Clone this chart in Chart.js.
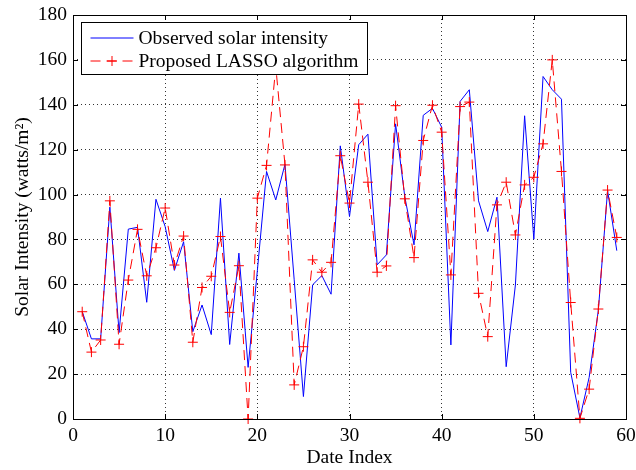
<!DOCTYPE html>
<html><head><meta charset="utf-8">
<script src="https://cdn.jsdelivr.net/npm/chart.js@4.4.0/dist/chart.umd.min.js"></script>
<style>html,body{margin:0;padding:0;background:#fff;} canvas{display:block;}</style>
</head><body>
<canvas id="c" width="636" height="470"></canvas>
<script>
const dateIndex = [1,2,3,4,5,6,7,8,9,10,11,12,13,14,15,16,17,18,19,20,21,22,23,24,25,26,27,28,29,30,31,32,33,34,35,36,37,38,39,40,41,42,43,44,45,46,47,48,49,50,51,52,53,54,55,56,57,58,59];
const observed = [47.9,35.7,35.7,94.4,38.5,84.6,85.4,52,97.9,85.7,66.2,79,38.9,50.8,37.6,98.4,33.2,73.9,23,66,110.3,97.6,113.5,62,10,59.8,63.9,55.6,121.7,90.2,122.2,126.9,68.7,73.1,131.5,99,77.6,135.3,138.4,130,33,141.5,146.7,97.2,83.5,98.8,23.3,59.7,135.1,80.1,152.6,146.7,142.5,20.8,0.5,18.5,48.5,101.8,75];
const lasso = [47.8,29.8,35.2,97.2,33.3,61.9,84.5,63.8,76.3,94,68.6,81.5,34.2,58.6,63.6,81.3,47.5,68.3,0,98.4,113,157,113.2,15.2,32.2,70.9,65.4,69.8,117.3,96.2,140.3,105.5,65.4,68.2,139.6,98.1,71.9,124.1,139.8,127.8,64.2,139.2,141.2,56,36.7,95.4,105.5,82,104.3,107.7,122.6,160,110.3,51.9,0.3,13.3,49,102,80.9];
const xTicks = [0,10,20,30,40,50,60];
const yTicks = [0,20,40,60,80,100,120,140,160,180];
const seriesLabels = ['Observed solar intensity','Proposed LASSO algorithm'];
const xTitle = 'Date Index';
const yTitle = 'Solar Intensity (watts/m\u00B2)';

const SERIF = "'Liberation Serif','Times New Roman',serif";
const FS = 19.5;

const framePlugin = {
  id: 'frame',
  afterDatasetsDraw(chart) {
    const {ctx, chartArea: a, scales} = chart;
    ctx.save();
    ctx.setLineDash([]);
    ctx.strokeStyle = '#000';
    ctx.lineWidth = 1;
    ctx.strokeRect(Math.round(a.left)+0.5, Math.round(a.top)+0.5, Math.round(a.right-a.left), Math.round(a.bottom-a.top));
    const L = 5;
    ctx.beginPath();
    xTicks.forEach(v => {
      const x = Math.round(scales.x.getPixelForValue(v)) + 0.5;
      ctx.moveTo(x, a.bottom); ctx.lineTo(x, a.bottom - L);
      ctx.moveTo(x, a.top); ctx.lineTo(x, a.top + L);
    });
    yTicks.forEach(v => {
      const y = Math.round(scales.y.getPixelForValue(v)) + 0.5;
      ctx.moveTo(a.left, y); ctx.lineTo(a.left + L, y);
      ctx.moveTo(a.right, y); ctx.lineTo(a.right - L, y);
    });
    ctx.stroke();
    ctx.restore();
  }
};

const legendPlugin = {
  id: 'boxLegend',
  afterDatasetsDraw(chart) {
    const {ctx, chartArea: a} = chart;
    const ds = chart.data.datasets;
    const x0 = Math.round(a.left + 8) + 0.5, y0 = Math.round(a.top + 7) + 0.5;
    const w = 286, h = 52;
    ctx.save();
    ctx.fillStyle = '#fff';
    ctx.fillRect(x0, y0, w, h);
    ctx.strokeStyle = '#000';
    ctx.lineWidth = 1;
    ctx.setLineDash([]);
    ctx.strokeRect(x0, y0, w, h);
    ctx.font = FS + 'px ' + SERIF;
    ctx.fillStyle = '#000';
    ctx.textBaseline = 'middle';
    const rows = [y0 + 15.5, y0 + 38.5];
    ds.forEach((d, i) => {
      const y = rows[i];
      const lx0 = x0 + 9, lx1 = x0 + 52;
      ctx.strokeStyle = d.borderColor;
      ctx.lineWidth = 1;
      ctx.setLineDash(d.borderDash || []);
      ctx.beginPath(); ctx.moveTo(lx0, y); ctx.lineTo(lx1, y); ctx.stroke();
      ctx.setLineDash([]);
      if (d.pointStyle === 'cross') {
        const cx = (lx0 + lx1) / 2, r = 5;
        ctx.beginPath();
        ctx.moveTo(cx - r, y); ctx.lineTo(cx + r, y);
        ctx.moveTo(cx, y - r); ctx.lineTo(cx, y + r);
        ctx.stroke();
      }
      ctx.fillStyle = '#000';
      ctx.fillText(d.label, x0 + 57, y + 1);
    });
    ctx.restore();
  }
};

new Chart(document.getElementById('c'), {
  type: 'line',
  data: {
    datasets: [
      {
        label: seriesLabels[0],
        data: dateIndex.map((x, i) => ({x, y: observed[i]})),
        borderColor: '#0000ff',
        borderWidth: 1,
        pointRadius: 0,
        fill: false,
        tension: 0,
        order: 1
      },
      {
        label: seriesLabels[1],
        data: dateIndex.map((x, i) => ({x, y: lasso[i]})),
        borderColor: '#ff0000',
        borderWidth: 1,
        borderDash: [10, 6],
        pointStyle: 'cross',
        pointRadius: 5,
        pointBorderWidth: 1,
        pointBorderColor: '#ff0000',
        pointBackgroundColor: '#ff0000',
        fill: false,
        tension: 0,
        clip: false,
        order: 0
      }
    ]
  },
  options: {
    responsive: false,
    animation: false,
    devicePixelRatio: 1,
    layout: { padding: { top: 15, right: 10, left: 0, bottom: 0 } },
    plugins: { legend: { display: false }, tooltip: { enabled: false } },
    scales: {
      x: {
        type: 'linear', min: 0, max: 60,
        afterBuildTicks: s => { s.ticks = xTicks.map(v => ({value: v})); },
        afterFit: s => { s.height = 51; s.paddingLeft = 0; s.paddingRight = 0; },
        ticks: { color: '#000', font: { family: SERIF, size: FS }, padding: 5, maxRotation: 0 },
        grid: { color: '#333', lineWidth: 1, drawTicks: false },
        border: { display: false, dash: [1, 3] },
        title: { display: true, text: xTitle, color: '#000', font: { family: SERIF, size: FS }, padding: { top: 0, bottom: 0 } }
      },
      y: {
        type: 'linear', min: 0, max: 180,
        afterBuildTicks: s => { s.ticks = yTicks.map(v => ({value: v})); },
        afterFit: s => { s.width = 73; s.paddingTop = 0; s.paddingBottom = 0; },
        ticks: { color: '#000', font: { family: SERIF, size: FS }, padding: 6 },
        grid: { color: '#333', lineWidth: 1, drawTicks: false },
        border: { display: false, dash: [1, 3] },
        title: { display: true, text: yTitle, color: '#000', font: { family: SERIF, size: FS }, padding: { top: 11, bottom: 0 } }
      }
    }
  },
  plugins: [framePlugin, legendPlugin]
});
</script>
</body></html>
